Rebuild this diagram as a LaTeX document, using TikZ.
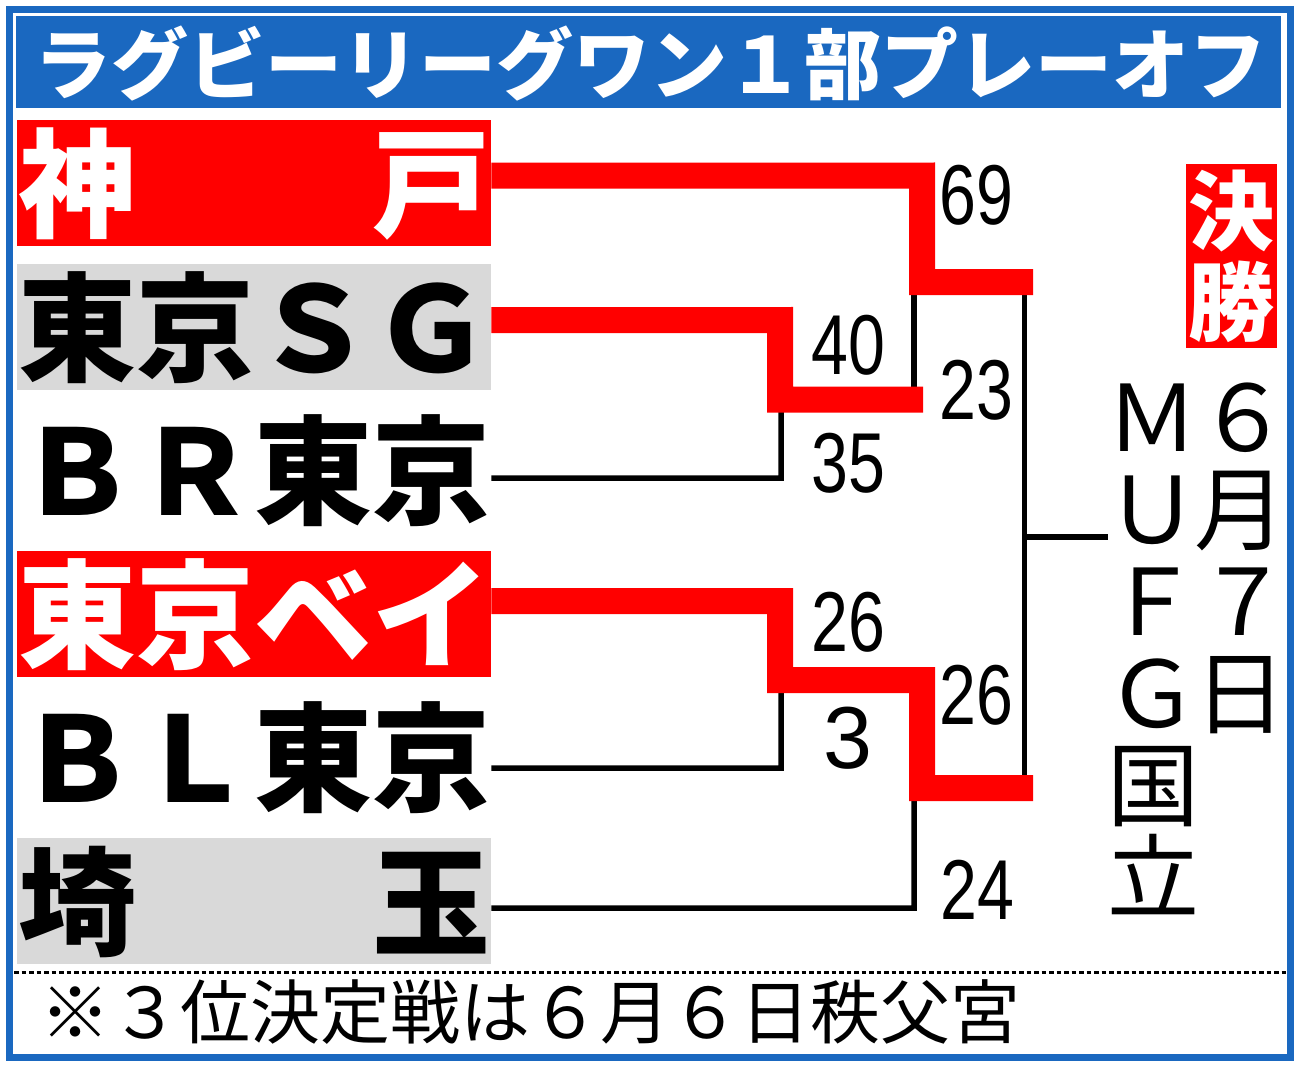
\documentclass[tikz,border=0pt]{standalone}
\usepackage{fontspec}
\newfontfamily\cjk{Noto Sans CJK JP}
\newfontfamily\numf[FakeStretch=0.78]{Liberation Sans}
\newfontfamily\numw{Liberation Sans}
\definecolor{hdrblue}{RGB}{26,104,192}
\definecolor{brred}{RGB}{255,0,0}
\definecolor{boxgray}{RGB}{217,217,217}
\begin{document}
\begin{tikzpicture}[x=1pt,y=-1pt,
  namebox/.style={minimum width=474pt,minimum height=126pt,inner sep=0pt,anchor=north west,
    font=\cjk\bfseries\fontsize{118}{118}\selectfont,text height=103.8pt,text depth=14.2pt},
  redbox/.style={namebox,fill=brred,text=white},
  graybox/.style={namebox,fill=boxgray,text=black},
  plainbox/.style={namebox,text=black},
  score/.style={font=\numf\fontsize{85}{85}\selectfont,inner sep=0pt,text height=61pt,text depth=0pt,anchor=center},
  vchar/.style={font=\cjk\fontsize{92}{92}\selectfont,inner sep=0pt,text height=81pt,text depth=11pt,anchor=center},
  finchar/.style={font=\cjk\bfseries\fontsize{86}{86}\selectfont,text=white,inner sep=0pt,text height=75.7pt,text depth=10.3pt,anchor=center},
  win/.style={draw=brred,line width=26pt,line join=miter,line cap=butt},
  lose/.style={draw=black,line width=5.5pt,line join=miter,line cap=butt}]
\useasboundingbox (0,0) rectangle (1300,1066);
\fill[white] (0,0) rectangle (1300,1066);
% frame
\draw[hdrblue,line width=7pt] (9.5,9.5) rectangle (1290.5,1057.5);
% header
\node[fill=hdrblue,minimum width=1265pt,minimum height=92pt,inner sep=0pt,anchor=north west] (header) at (16,16) {};
\node[font=\cjk\bfseries\fontsize{77}{77}\selectfont,text=white,inner sep=0pt,text height=67.8pt,text depth=9.2pt] (title) at (650,64) {ラグビーリーグワン１部プレーオフ};
% team boxes
\node[redbox] (kobe) at (17,120) {\makebox[472pt]{神\hfill 戸}};
\node[graybox] (sg) at (17,264) {\makebox[472pt]{東京ＳＧ}};
\node[plainbox] (br) at (17,407) {\makebox[472pt]{ＢＲ東京}};
\node[redbox] (bay) at (17,551) {\makebox[472pt]{東京ベイ}};
\node[plainbox] (bl) at (17,694) {\makebox[472pt]{ＢＬ東京}};
\node[graybox] (sai) at (17,838) {\makebox[472pt]{埼\hfill 玉}};
% losing paths
\draw[lose] ([yshift=-8pt]br.east) -- (781,478) -- (781,405);
\draw[lose] ([yshift=-11pt]bl.east) -- (781,768) -- (781,685);
\draw[lose] ([yshift=-7pt]sai.east) -- (914,908) -- (914,790);
\draw[lose] (914,290) -- (914,402);
\draw[lose] (1024.5,285) -- (1024.5,785);
\coordinate (finalend) at (1108,537);
\draw[lose] (1024.5,537) -- (finalend);
% winning paths
\draw[win] ([yshift=7.5pt]kobe.east) -- (922,175.5) -- (922,282) -- (1033,282);
\draw[win] ([yshift=7pt]sg.east) -- (780,320) -- (780,399.5) -- (923,399.5);
\draw[win] ([yshift=13pt]bay.east) -- (780,601) -- (780,680) -- (922,680) -- (922,788) -- (1033,788);
% scores
\node[score] (s69) at (976,194) {69};
\node[score] (s40) at (848,344) {40};
\node[score] (s23) at (976,389) {23};
\node[score] (s35) at (848,462) {35};
\node[score] (s26a) at (848,621) {26};
\node[score] (s26b) at (976,694) {26};
\node[score,font=\numw\fontsize{88}{88}\selectfont] (s3) at (848,738) {3};
\node[score] (s24) at (977,889) {24};
% final label
\node[fill=brred,minimum width=91pt,minimum height=184pt,inner sep=0pt,anchor=north west] (finbox) at (1186,164) {};
\node[finchar] (fin1) at (1231,211) {決};
\node[finchar] (fin2) at (1231,302) {勝};
% venue / date
\node[vchar] (d1) at (1243,416) {６};
\node[vchar] (d2) at (1240,508) {月};
\node[vchar] (d3) at (1243,600) {７};
\node[vchar] (d4) at (1240,692) {日};
\node[vchar] (v1) at (1152,416) {Ｍ};
\node[vchar] (v2) at (1152,508) {Ｕ};
\node[vchar] (v3) at (1152,600) {Ｆ};
\node[vchar] (v4) at (1152,692) {Ｇ};
\node[vchar] (v5) at (1153,784) {国};
\node[vchar] (v6) at (1153,876) {立};
% footer
\draw[black,line width=3pt,dash pattern=on 4.5pt off 3pt] (14,972) -- (1287,972);
\node[font=\cjk\fontsize{70}{70}\selectfont,inner sep=0pt,text height=61.6pt,text depth=8.4pt,anchor=west] (note) at (40,1012) {※３位決定戦は６月６日秩父宮};
\end{tikzpicture}
\end{document}
